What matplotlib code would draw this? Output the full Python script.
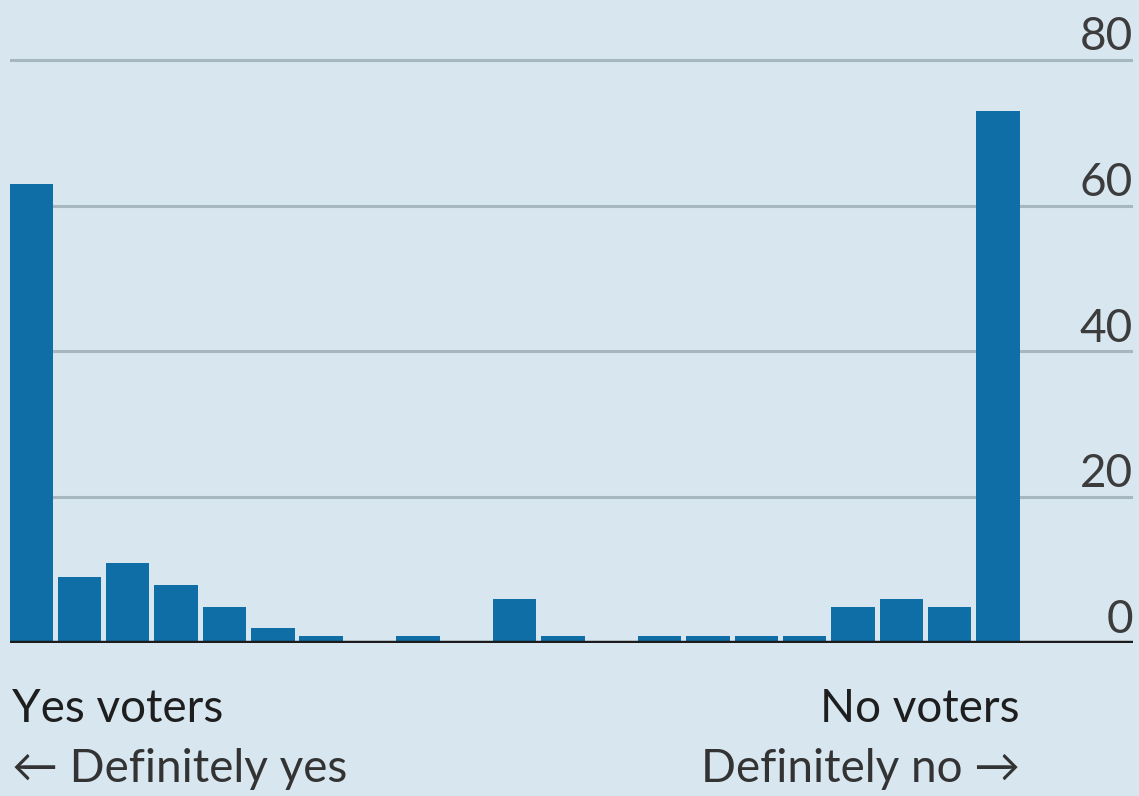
import matplotlib
matplotlib.use("Agg")
import matplotlib.pyplot as plt
import numpy as np

values = [63, 9, 11, 8, 5, 2, 1, 0, 1, 0, 6, 1, 0, 1, 1, 1, 1, 5, 6, 5, 73]
yticks = [0, 20, 40, 60, 80]
ytick_labels = ["0", "20", "40", "60", "80"]

bg = "#d7e6ef"
bar_color = "#0f6ea6"
grid_color = "#a6b7c0"

W, H = 1139, 796
fig = plt.figure(figsize=(W / 100, H / 100), dpi=100, facecolor=bg)
ax = fig.add_axes([10 / W, 1 - 643 / H, (1133 - 10) / W, 643 / H])
ax.set_facecolor(bg)

x = np.arange(len(values))
ax.bar(x, values, width=0.9, color=bar_color, zorder=3)

ax.set_xlim(-0.434, 22.79)
ax.set_ylim(0, 88.2)

for t, lab in zip(yticks, ytick_labels):
    if t > 0:
        ax.axhline(t, color=grid_color, lw=2.2, zorder=1)
    ax.text(1.0, t + 1.35, lab, transform=ax.get_yaxis_transform(), ha="right", va="baseline",
            fontsize=33, family="Lato", color="#3c3c3c")
ax.axhline(0, color="#1c1c1c", lw=3.2, zorder=4)

for s in ax.spines.values():
    s.set_visible(False)
ax.set_xticks([])
ax.set_yticks([])

fs = 33
fig.text(12 / W, 1 - 722 / H, "Yes voters", ha="left", va="baseline", fontsize=fs,
         family="Lato", color="#1e1e1e")
fig.text(12 / W, 1 - 782 / H, "\u2190 Definitely yes", ha="left", va="baseline", fontsize=fs,
         family=["Lato", "DejaVu Sans"], color="#333333")
fig.text(1020 / W, 1 - 722 / H, "No voters", ha="right", va="baseline", fontsize=fs,
         family="Lato", color="#1e1e1e")
fig.text(1020 / W, 1 - 782 / H, "Definitely no \u2192", ha="right", va="baseline", fontsize=fs,
         family=["Lato", "DejaVu Sans"], color="#333333")

fig.savefig("out.png", dpi=100, facecolor=bg)
